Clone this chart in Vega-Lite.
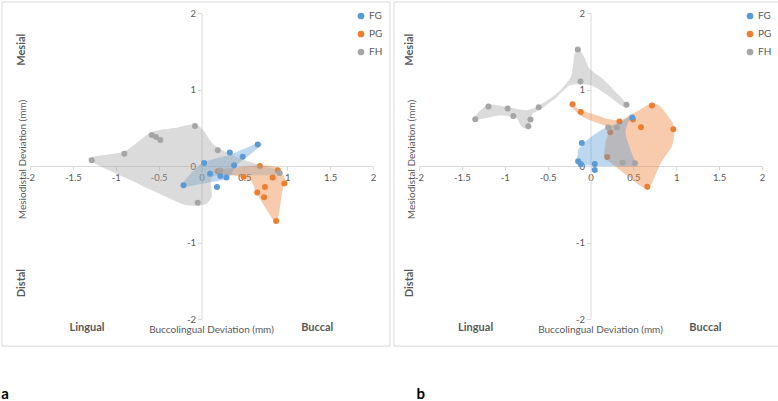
{
  "$schema": "https://vega.github.io/schema/vega-lite/v6.json",
  "padding": {"left": 1, "top": 1, "right": 0, "bottom": 0},
  "config": {
    "font": "Lato",
    "view": {"stroke": null},
    "axis": {"grid": false, "labelFontSize": 9.5, "labelColor": "#595959", "domainColor": "#d9d9d9", "tickColor": "#d9d9d9", "tickSize": 4, "labelOverlap": false, "labelFlush": false, "titleFontWeight": "normal", "titleColor": "#595959", "titleFontSize": 10}
  },
  "datasets": {
    "pa": [
      {"g": "FG", "x": -0.21, "y": -0.25}, {"g": "FG", "x": 0.03, "y": 0.04}, {"g": "FG", "x": 0.10, "y": -0.10}, {"g": "FG", "x": 0.18, "y": -0.275}, {"g": "FG", "x": 0.22, "y": -0.13}, {"g": "FG", "x": 0.29, "y": -0.15}, {"g": "FG", "x": 0.33, "y": 0.175}, {"g": "FG", "x": 0.38, "y": 0.01}, {"g": "FG", "x": 0.48, "y": 0.12}, {"g": "FG", "x": 0.655, "y": 0.28},
      {"g": "PG", "x": 0.19, "y": -0.07}, {"g": "PG", "x": 0.49, "y": -0.14}, {"g": "PG", "x": 0.68, "y": 0.0}, {"g": "PG", "x": 0.65, "y": -0.345}, {"g": "PG", "x": 0.74, "y": -0.275}, {"g": "PG", "x": 0.73, "y": -0.41}, {"g": "PG", "x": 0.83, "y": -0.15}, {"g": "PG", "x": 0.89, "y": -0.057}, {"g": "PG", "x": 0.966, "y": -0.23}, {"g": "PG", "x": 0.87, "y": -0.72},
      {"g": "FH", "x": -1.28, "y": 0.075}, {"g": "FH", "x": -0.90, "y": 0.16}, {"g": "FH", "x": -0.58, "y": 0.405}, {"g": "FH", "x": -0.53, "y": 0.38}, {"g": "FH", "x": -0.48, "y": 0.34}, {"g": "FH", "x": -0.076, "y": 0.524}, {"g": "FH", "x": 0.19, "y": 0.205}, {"g": "FH", "x": -0.044, "y": -0.48}, {"g": "FH", "x": 0.22, "y": -0.06}, {"g": "FH", "x": 0.91, "y": -0.09}
    ],
    "pb": [
      {"g": "FG", "x": -0.144, "y": 0.061}, {"g": "FG", "x": -0.113, "y": 0.022}, {"g": "FG", "x": -0.101, "y": 0.30}, {"g": "FG", "x": 0.05, "y": 0.026}, {"g": "FG", "x": 0.05, "y": -0.052}, {"g": "FG", "x": 0.487, "y": 0.633},
      {"g": "PG", "x": -0.21, "y": 0.808}, {"g": "PG", "x": -0.113, "y": 0.707}, {"g": "PG", "x": 0.195, "y": 0.118}, {"g": "PG", "x": 0.23, "y": 0.44}, {"g": "PG", "x": 0.339, "y": 0.581}, {"g": "PG", "x": 0.495, "y": 0.607}, {"g": "PG", "x": 0.588, "y": 0.507}, {"g": "PG", "x": 0.717, "y": 0.79}, {"g": "PG", "x": 0.966, "y": 0.48}, {"g": "PG", "x": 0.662, "y": -0.27},
      {"g": "FH", "x": -1.344, "y": 0.611}, {"g": "FH", "x": -1.19, "y": 0.777}, {"g": "FH", "x": -0.966, "y": 0.751}, {"g": "FH", "x": -0.90, "y": 0.655}, {"g": "FH", "x": -0.725, "y": 0.52}, {"g": "FH", "x": -0.70, "y": 0.607}, {"g": "FH", "x": -0.604, "y": 0.769}, {"g": "FH", "x": -0.148, "y": 1.524}, {"g": "FH", "x": -0.117, "y": 1.105}, {"g": "FH", "x": 0.42, "y": 0.80}, {"g": "FH", "x": 0.206, "y": 0.502}, {"g": "FH", "x": 0.308, "y": 0.502}, {"g": "FH", "x": 0.374, "y": 0.044}, {"g": "FH", "x": 0.518, "y": 0.035}
    ],
    "ra": [
      {"g": "FH", "i": 1, "x": -1.32, "y": 0.09}, {"g": "FH", "i": 2, "x": -0.9, "y": 0.19}, {"g": "FH", "i": 3, "x": -0.59, "y": 0.44}, {"g": "FH", "i": 4, "x": -0.3, "y": 0.5}, {"g": "FH", "i": 5, "x": -0.08, "y": 0.55}, {"g": "FH", "i": 6, "x": 0.02, "y": 0.47}, {"g": "FH", "i": 7, "x": 0.15, "y": 0.27}, {"g": "FH", "i": 8, "x": 0.42, "y": 0.11}, {"g": "FH", "i": 9, "x": 0.66, "y": 0.02}, {"g": "FH", "i": 10, "x": 0.93, "y": -0.07}, {"g": "FH", "i": 11, "x": 0.92, "y": -0.12}, {"g": "FH", "i": 12, "x": 0.5, "y": -0.12}, {"g": "FH", "i": 13, "x": 0.15, "y": -0.13}, {"g": "FH", "i": 14, "x": 0.11, "y": -0.22}, {"g": "FH", "i": 15, "x": 0.12, "y": -0.40}, {"g": "FH", "i": 16, "x": 0.06, "y": -0.49}, {"g": "FH", "i": 17, "x": -0.05, "y": -0.52}, {"g": "FH", "i": 18, "x": -0.24, "y": -0.49}, {"g": "FH", "i": 19, "x": -0.78, "y": -0.21},
      {"g": "FG", "i": 1, "x": -0.23, "y": -0.24}, {"g": "FG", "i": 2, "x": -0.12, "y": -0.09}, {"g": "FG", "i": 3, "x": 0.03, "y": 0.05}, {"g": "FG", "i": 4, "x": 0.34, "y": 0.15}, {"g": "FG", "i": 5, "x": 0.66, "y": 0.30}, {"g": "FG", "i": 6, "x": 0.69, "y": 0.26}, {"g": "FG", "i": 7, "x": 0.42, "y": 0.02}, {"g": "FG", "i": 8, "x": 0.31, "y": -0.16}, {"g": "FG", "i": 9, "x": 0.11, "y": -0.21}, {"g": "FG", "i": 10, "x": -0.12, "y": -0.26}, {"g": "FG", "i": 11, "x": -0.23, "y": -0.27},
      {"g": "PG", "i": 1, "x": 0.15, "y": -0.056}, {"g": "PG", "i": 2, "x": 0.42, "y": -0.02}, {"g": "PG", "i": 3, "x": 0.67, "y": 0.01}, {"g": "PG", "i": 4, "x": 0.89, "y": -0.02}, {"g": "PG", "i": 5, "x": 0.985, "y": -0.2}, {"g": "PG", "i": 6, "x": 0.95, "y": -0.28}, {"g": "PG", "i": 7, "x": 0.88, "y": -0.73}, {"g": "PG", "i": 8, "x": 0.77, "y": -0.59}, {"g": "PG", "i": 9, "x": 0.64, "y": -0.35}, {"g": "PG", "i": 10, "x": 0.58, "y": -0.2}, {"g": "PG", "i": 11, "x": 0.42, "y": -0.13}, {"g": "PG", "i": 12, "x": 0.23, "y": -0.11}
    ],
    "rb": [
      {"g": "FH", "i": 1, "x": -1.36, "y": 0.63}, {"g": "FH", "i": 2, "x": -1.2, "y": 0.80}, {"g": "FH", "i": 3, "x": -0.97, "y": 0.77}, {"g": "FH", "i": 4, "x": -0.75, "y": 0.73}, {"g": "FH", "i": 5, "x": -0.60, "y": 0.79}, {"g": "FH", "i": 6, "x": -0.40, "y": 0.94}, {"g": "FH", "i": 7, "x": -0.23, "y": 1.16}, {"g": "FH", "i": 8, "x": -0.19, "y": 1.44}, {"g": "FH", "i": 9, "x": -0.15, "y": 1.55}, {"g": "FH", "i": 10, "x": -0.08, "y": 1.44}, {"g": "FH", "i": 11, "x": -0.01, "y": 1.27}, {"g": "FH", "i": 12, "x": 0.14, "y": 1.14}, {"g": "FH", "i": 13, "x": 0.30, "y": 0.96}, {"g": "FH", "i": 14, "x": 0.44, "y": 0.79}, {"g": "FH", "i": 15, "x": 0.37, "y": 0.78}, {"g": "FH", "i": 16, "x": 0.18, "y": 0.94}, {"g": "FH", "i": 17, "x": 0.02, "y": 1.05}, {"g": "FH", "i": 18, "x": -0.13, "y": 1.07}, {"g": "FH", "i": 19, "x": -0.25, "y": 1.05}, {"g": "FH", "i": 20, "x": -0.40, "y": 0.895}, {"g": "FH", "i": 21, "x": -0.56, "y": 0.756}, {"g": "FH", "i": 22, "x": -0.68, "y": 0.68}, {"g": "FH", "i": 23, "x": -0.71, "y": 0.55}, {"g": "FH", "i": 24, "x": -0.76, "y": 0.49}, {"g": "FH", "i": 25, "x": -0.81, "y": 0.52}, {"g": "FH", "i": 26, "x": -0.87, "y": 0.63}, {"g": "FH", "i": 27, "x": -1.06, "y": 0.66}, {"g": "FH", "i": 28, "x": -1.34, "y": 0.60},
      {"g": "PG", "i": 1, "x": -0.23, "y": 0.81}, {"g": "PG", "i": 2, "x": -0.13, "y": 0.74}, {"g": "PG", "i": 3, "x": 0.025, "y": 0.68}, {"g": "PG", "i": 4, "x": 0.22, "y": 0.61}, {"g": "PG", "i": 5, "x": 0.36, "y": 0.60}, {"g": "PG", "i": 6, "x": 0.45, "y": 0.66}, {"g": "PG", "i": 7, "x": 0.57, "y": 0.73}, {"g": "PG", "i": 8, "x": 0.71, "y": 0.82}, {"g": "PG", "i": 9, "x": 0.80, "y": 0.79}, {"g": "PG", "i": 10, "x": 0.90, "y": 0.66}, {"g": "PG", "i": 11, "x": 0.98, "y": 0.50}, {"g": "PG", "i": 12, "x": 0.95, "y": 0.26}, {"g": "PG", "i": 13, "x": 0.82, "y": 0.04}, {"g": "PG", "i": 14, "x": 0.71, "y": -0.24}, {"g": "PG", "i": 15, "x": 0.655, "y": -0.29}, {"g": "PG", "i": 16, "x": 0.57, "y": -0.25}, {"g": "PG", "i": 17, "x": 0.41, "y": -0.11}, {"g": "PG", "i": 18, "x": 0.24, "y": 0.04}, {"g": "PG", "i": 19, "x": 0.16, "y": 0.12}, {"g": "PG", "i": 20, "x": 0.18, "y": 0.33}, {"g": "PG", "i": 21, "x": 0.22, "y": 0.45}, {"g": "PG", "i": 22, "x": 0.18, "y": 0.52}, {"g": "PG", "i": 23, "x": -0.014, "y": 0.60}, {"g": "PG", "i": 24, "x": -0.13, "y": 0.67}, {"g": "PG", "i": 25, "x": -0.21, "y": 0.76},
      {"g": "FG", "i": 1, "x": -0.16, "y": 0.03}, {"g": "FG", "i": 2, "x": -0.15, "y": 0.15}, {"g": "FG", "i": 3, "x": -0.14, "y": 0.22}, {"g": "FG", "i": 4, "x": -0.03, "y": 0.35}, {"g": "FG", "i": 5, "x": 0.14, "y": 0.48}, {"g": "FG", "i": 6, "x": 0.34, "y": 0.57}, {"g": "FG", "i": 7, "x": 0.50, "y": 0.67}, {"g": "FG", "i": 8, "x": 0.43, "y": 0.55}, {"g": "FG", "i": 9, "x": 0.41, "y": 0.415}, {"g": "FG", "i": 10, "x": 0.47, "y": 0.20}, {"g": "FG", "i": 11, "x": 0.53, "y": 0.03}, {"g": "FG", "i": 12, "x": 0.50, "y": 0.0}, {"g": "FG", "i": 13, "x": 0.2, "y": 0.0}, {"g": "FG", "i": 14, "x": -0.1, "y": 0.01}
    ]
  },
  "resolve": {"scale": {"color": "independent"}, "legend": {"color": "independent"}},
  "spacing": 2,
  "hconcat": [
    {
      "width": 343, "height": 306,
      "layer": [
        {"data": {"values": [{}]}, "mark": {"type": "rect", "clip": false, "fill": null, "fillOpacity": 0, "stroke": "#d9d9d9", "strokeWidth": 1}, "encoding": {
          "x": {"datum": -2.327, "type": "quantitative", "scale": {"domain": [-2, 2], "nice": false, "zero": false}, "axis": {"orient": "bottom", "offset": -153, "values": [-2, -1.5, -1, -0.5, 0, 0.5, 1, 1.5, 2], "format": ".1~f", "labelExpr": "replace(datum.label, '\u2212', '-')", "labelPadding": 2, "title": "Buccolingual Deviation (mm)", "titleX": 181, "titleY": 163, "titleBaseline": "middle"}},
          "x2": {"datum": 2.198},
          "y": {"datum": 2.144, "type": "quantitative", "scale": {"domain": [-2, 2], "nice": false, "zero": false}, "axis": {"orient": "left", "offset": -171.5, "values": [-2, -1.5, -1, -0.5, 0, 0.5, 1, 1.5, 2], "format": ".1~f", "labelExpr": "replace(datum.label, '\u2212', '-')", "labelPadding": 2, "title": "Mesiodistal Deviation (mm)", "titleX": -179.5, "titleY": 146, "titleBaseline": "middle"}},
          "y2": {"datum": -2.355}}},
        {"data": {"name": "ra"}, "transform": [{"filter": "datum.g === 'PG'"}], "mark": {"type": "line", "filled": true, "interpolate": "cardinal-closed", "tension": 0.3, "fill": "#ED7D31", "fillOpacity": 0.4, "strokeOpacity": 0}, "encoding": {"x": {"field": "x", "type": "quantitative", "scale": {"domain": [-2, 2]}}, "y": {"field": "y", "type": "quantitative", "scale": {"domain": [-2, 2]}}, "order": {"field": "i", "type": "quantitative"}}},
        {"data": {"name": "pa"}, "transform": [{"filter": "datum.g === 'PG'"}], "mark": {"type": "point", "filled": true, "size": 36, "opacity": 1}, "encoding": {"x": {"field": "x", "type": "quantitative", "scale": {"domain": [-2, 2]}}, "y": {"field": "y", "type": "quantitative", "scale": {"domain": [-2, 2]}}, "color": {"field": "g", "type": "nominal", "scale": {"domain": ["FG", "PG", "FH"], "range": ["#5B9BD5", "#ED7D31", "#A5A5A5"]}, "legend": {"orient": "none", "legendX": 326, "legendY": -2, "title": null, "symbolType": "circle", "symbolSize": 45, "labelFontSize": 10, "labelColor": "#595959", "rowPadding": 8, "padding": 0, "labelOffset": 3}}}},
        {"data": {"name": "ra"}, "transform": [{"filter": "datum.g === 'FG'"}], "mark": {"type": "line", "filled": true, "interpolate": "cardinal-closed", "tension": 0.3, "fill": "#5B9BD5", "fillOpacity": 0.4, "strokeOpacity": 0}, "encoding": {"x": {"field": "x", "type": "quantitative", "scale": {"domain": [-2, 2]}}, "y": {"field": "y", "type": "quantitative", "scale": {"domain": [-2, 2]}}, "order": {"field": "i", "type": "quantitative"}}},
        {"data": {"name": "ra"}, "transform": [{"filter": "datum.g === 'FH'"}], "mark": {"type": "line", "filled": true, "interpolate": "cardinal-closed", "tension": 0.3, "fill": "#A5A5A5", "fillOpacity": 0.4, "strokeOpacity": 0}, "encoding": {"x": {"field": "x", "type": "quantitative", "scale": {"domain": [-2, 2]}}, "y": {"field": "y", "type": "quantitative", "scale": {"domain": [-2, 2]}}, "order": {"field": "i", "type": "quantitative"}}},
        {"data": {"name": "pa"}, "transform": [{"filter": "datum.g !== 'PG'"}], "mark": {"type": "point", "filled": true, "size": 36, "opacity": 1}, "encoding": {"x": {"field": "x", "type": "quantitative", "scale": {"domain": [-2, 2]}}, "y": {"field": "y", "type": "quantitative", "scale": {"domain": [-2, 2]}}, "color": {"field": "g", "type": "nominal", "scale": {"domain": ["FG", "PG", "FH"], "range": ["#5B9BD5", "#ED7D31", "#A5A5A5"]}, "legend": {"orient": "none", "legendX": 326, "legendY": -2, "title": null, "symbolType": "circle", "symbolSize": 45, "labelFontSize": 10, "labelColor": "#595959", "rowPadding": 8, "padding": 0, "labelOffset": 3}}}},
        {"data": {"values": [{}]}, "mark": {"type": "text", "clip": false, "text": "Mesial", "angle": 270, "fontWeight": "bold", "fontSize": 11, "color": "#595959"}, "encoding": {"x": {"datum": -2.09, "type": "quantitative"}, "y": {"datum": 1.52, "type": "quantitative"}}},
        {"data": {"values": [{}]}, "mark": {"type": "text", "clip": false, "text": "Distal", "angle": 270, "fontWeight": "bold", "fontSize": 11, "color": "#595959"}, "encoding": {"x": {"datum": -2.09, "type": "quantitative"}, "y": {"datum": -1.53, "type": "quantitative"}}},
        {"data": {"values": [{}]}, "mark": {"type": "text", "clip": false, "text": "Lingual", "fontWeight": "bold", "fontSize": 11, "color": "#595959"}, "encoding": {"x": {"datum": -1.335, "type": "quantitative"}, "y": {"datum": -2.12, "type": "quantitative"}}},
        {"data": {"values": [{}]}, "mark": {"type": "text", "clip": false, "text": "Buccal", "fontWeight": "bold", "fontSize": 11, "color": "#595959"}, "encoding": {"x": {"datum": 1.35, "type": "quantitative"}, "y": {"datum": -2.12, "type": "quantitative"}}},
        {"data": {"values": [{}]}, "mark": {"type": "text", "clip": false, "text": "a", "align": "left", "baseline": "alphabetic", "fontWeight": "bold", "fontSize": 15, "color": "#000000"}, "encoding": {"x": {"datum": -2.335, "type": "quantitative"}, "y": {"datum": -3.05, "type": "quantitative"}}}
      ]
    },
    {
      "width": 343, "height": 306,
      "layer": [
        {"data": {"values": [{}]}, "mark": {"type": "rect", "clip": false, "fill": null, "fillOpacity": 0, "stroke": "#d9d9d9", "strokeWidth": 1}, "encoding": {
          "x": {"datum": -2.292, "type": "quantitative", "scale": {"domain": [-2, 2], "nice": false, "zero": false}, "axis": {"orient": "bottom", "offset": -153, "values": [-2, -1.5, -1, -0.5, 0, 0.5, 1, 1.5, 2], "format": ".1~f", "labelExpr": "replace(datum.label, '\u2212', '-')", "labelPadding": 2, "title": "Buccolingual Deviation (mm)", "titleX": 181, "titleY": 163, "titleBaseline": "middle"}},
          "x2": {"datum": 2.229},
          "y": {"datum": 2.144, "type": "quantitative", "scale": {"domain": [-2, 2], "nice": false, "zero": false}, "axis": {"orient": "left", "offset": -171.5, "values": [-2, -1.5, -1, -0.5, 0, 0.5, 1, 1.5, 2], "format": ".1~f", "labelExpr": "replace(datum.label, '\u2212', '-')", "labelPadding": 2, "title": "Mesiodistal Deviation (mm)", "titleX": -179.5, "titleY": 146, "titleBaseline": "middle"}},
          "y2": {"datum": -2.355}}},
        {"data": {"name": "rb"}, "transform": [{"filter": "datum.g === 'PG'"}], "mark": {"type": "line", "filled": true, "interpolate": "cardinal-closed", "tension": 0.3, "fill": "#ED7D31", "fillOpacity": 0.4, "strokeOpacity": 0}, "encoding": {"x": {"field": "x", "type": "quantitative", "scale": {"domain": [-2, 2]}}, "y": {"field": "y", "type": "quantitative", "scale": {"domain": [-2, 2]}}, "order": {"field": "i", "type": "quantitative"}}},
        {"data": {"name": "pb"}, "transform": [{"filter": "datum.g === 'PG'"}], "mark": {"type": "point", "filled": true, "size": 36, "opacity": 1}, "encoding": {"x": {"field": "x", "type": "quantitative", "scale": {"domain": [-2, 2]}}, "y": {"field": "y", "type": "quantitative", "scale": {"domain": [-2, 2]}}, "color": {"field": "g", "type": "nominal", "scale": {"domain": ["FG", "PG", "FH"], "range": ["#5B9BD5", "#ED7D31", "#A5A5A5"]}, "legend": {"orient": "none", "legendX": 326, "legendY": -2, "title": null, "symbolType": "circle", "symbolSize": 45, "labelFontSize": 10, "labelColor": "#595959", "rowPadding": 8, "padding": 0, "labelOffset": 3}}}},
        {"data": {"name": "rb"}, "transform": [{"filter": "datum.g === 'FG'"}], "mark": {"type": "line", "filled": true, "interpolate": "cardinal-closed", "tension": 0.3, "fill": "#5B9BD5", "fillOpacity": 0.4, "strokeOpacity": 0}, "encoding": {"x": {"field": "x", "type": "quantitative", "scale": {"domain": [-2, 2]}}, "y": {"field": "y", "type": "quantitative", "scale": {"domain": [-2, 2]}}, "order": {"field": "i", "type": "quantitative"}}},
        {"data": {"name": "rb"}, "transform": [{"filter": "datum.g === 'FH'"}], "mark": {"type": "line", "filled": true, "interpolate": "cardinal-closed", "tension": 0.3, "fill": "#A5A5A5", "fillOpacity": 0.4, "strokeOpacity": 0}, "encoding": {"x": {"field": "x", "type": "quantitative", "scale": {"domain": [-2, 2]}}, "y": {"field": "y", "type": "quantitative", "scale": {"domain": [-2, 2]}}, "order": {"field": "i", "type": "quantitative"}}},
        {"data": {"name": "pb"}, "transform": [{"filter": "datum.g !== 'PG'"}], "mark": {"type": "point", "filled": true, "size": 36, "opacity": 1}, "encoding": {"x": {"field": "x", "type": "quantitative", "scale": {"domain": [-2, 2]}}, "y": {"field": "y", "type": "quantitative", "scale": {"domain": [-2, 2]}}, "color": {"field": "g", "type": "nominal", "scale": {"domain": ["FG", "PG", "FH"], "range": ["#5B9BD5", "#ED7D31", "#A5A5A5"]}, "legend": {"orient": "none", "legendX": 326, "legendY": -2, "title": null, "symbolType": "circle", "symbolSize": 45, "labelFontSize": 10, "labelColor": "#595959", "rowPadding": 8, "padding": 0, "labelOffset": 3}}}},
        {"data": {"values": [{}]}, "mark": {"type": "text", "clip": false, "text": "Mesial", "angle": 270, "fontWeight": "bold", "fontSize": 11, "color": "#595959"}, "encoding": {"x": {"datum": -2.10, "type": "quantitative"}, "y": {"datum": 1.52, "type": "quantitative"}}},
        {"data": {"values": [{}]}, "mark": {"type": "text", "clip": false, "text": "Distal", "angle": 270, "fontWeight": "bold", "fontSize": 11, "color": "#595959"}, "encoding": {"x": {"datum": -2.10, "type": "quantitative"}, "y": {"datum": -1.53, "type": "quantitative"}}},
        {"data": {"values": [{}]}, "mark": {"type": "text", "clip": false, "text": "Lingual", "fontWeight": "bold", "fontSize": 11, "color": "#595959"}, "encoding": {"x": {"datum": -1.34, "type": "quantitative"}, "y": {"datum": -2.12, "type": "quantitative"}}},
        {"data": {"values": [{}]}, "mark": {"type": "text", "clip": false, "text": "Buccal", "fontWeight": "bold", "fontSize": 11, "color": "#595959"}, "encoding": {"x": {"datum": 1.34, "type": "quantitative"}, "y": {"datum": -2.12, "type": "quantitative"}}},
        {"data": {"values": [{}]}, "mark": {"type": "text", "clip": false, "text": "b", "align": "left", "baseline": "alphabetic", "fontWeight": "bold", "fontSize": 15, "color": "#000000"}, "encoding": {"x": {"datum": -2.03, "type": "quantitative"}, "y": {"datum": -3.05, "type": "quantitative"}}}
      ]
    }
  ]
}
